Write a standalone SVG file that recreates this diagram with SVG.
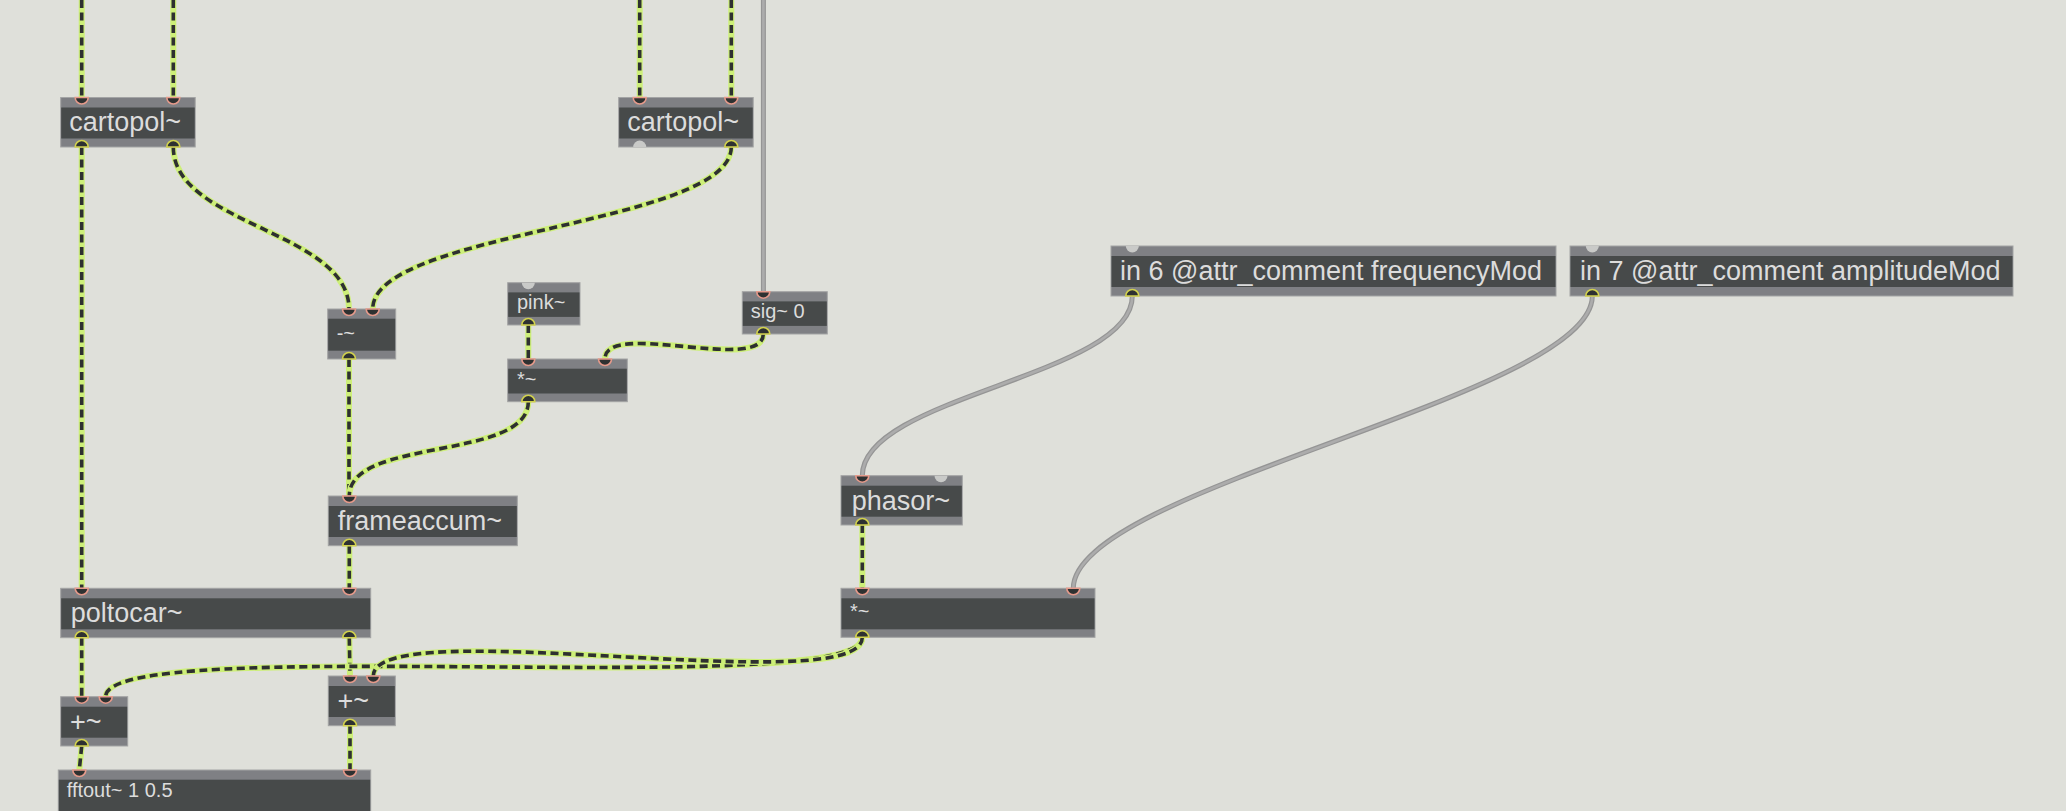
<svg xmlns="http://www.w3.org/2000/svg" xmlns:xlink="http://www.w3.org/1999/xlink" width="2066" height="811" viewBox="0 0 2066 811">
<style>
.bg{fill:#dfe0da}
.frame{fill:#7f8084;stroke:#a3a4a4;stroke-width:1}
.body{fill:#474a4a}
.t{font-family:"Liberation Sans",Arial,sans-serif;fill:#dcdcdc}
.big{font-size:27px}
.sm{font-size:20px}
.inl{fill:#2e3131;stroke:#e69a8b;stroke-width:1.6}
.outl{fill:#2e3131;stroke:#d2d24e;stroke-width:1.6}
.off{fill:#c9cac8;stroke:none}
.sb{fill:none;stroke:#cdef78;stroke-width:6}
.sd{fill:none;stroke:#2e3030;stroke-width:3.6;stroke-dasharray:8 4.5}
.gb{fill:none;stroke:#959595;stroke-width:5}
.gc{fill:none;stroke:#acacac;stroke-width:2.6}
</style>
<defs>
<path id="in" d="M-6.5 0A6.5 6.5 0 0 0 6.5 0Z"/>
<path id="out" d="M-6.5 0A6.5 6.5 0 0 1 6.5 0Z"/>
<path id="c1" d="M81.7 0V97.5"/>
<path id="c2" d="M173.3 0V97.5"/>
<path id="c3" d="M639.7 0V97.5"/>
<path id="c4" d="M731.3 0V97.5"/>
<path id="c5" d="M81.7 147V588.3"/>
<path id="c6" d="M173.3 147C173.3 225 349 231 349 309"/>
<path id="c7" d="M731.3 147C731.3 225 372.7 231 372.7 309"/>
<path id="c8" d="M349 359V496"/>
<path id="c9" d="M528.3 325V359"/>
<path id="c10" d="M763.3 334C763.3 374 605 319 605 359"/>
<path id="c11" d="M528.3 401.7C528.3 461 349.3 437 349.3 496"/>
<path id="c12" d="M349.3 545.7V588.3"/>
<path id="c13" d="M81.7 637.7V696.7"/>
<path id="c14" d="M349.3 637.7L350 676"/>
<path id="c15" d="M862.3 637.3C862.3 702 105.7 631.7 105.7 696.7"/>
<path id="c16" d="M862.3 637.3C862.3 702 373.3 611 373.3 676"/>
<path id="c17" d="M81.7 746L79.3 770"/>
<path id="c18" d="M350 725.7V770"/>
<path id="c19" d="M862.3 525V588.3"/>
<path id="g1" d="M763.4 0V291.7"/>
<path id="g2" d="M1132.3 296C1132.3 376 862.3 396 862.3 475.7"/>
<path id="g3" d="M1592.3 296C1592.3 396 1073.3 488 1073.3 588.3"/>
</defs>
<rect class="bg" x="0" y="0" width="2066" height="811"/>

<g id="connectors">
<use href="#g1" class="gb"/><use href="#g1" class="gc"/>
<use href="#g2" class="gb"/><use href="#g2" class="gc"/>
<use href="#g3" class="gb"/><use href="#g3" class="gc"/>
<use href="#c1" class="sb"/><use href="#c1" class="sd"/>
<use href="#c2" class="sb"/><use href="#c2" class="sd"/>
<use href="#c3" class="sb"/><use href="#c3" class="sd"/>
<use href="#c4" class="sb"/><use href="#c4" class="sd"/>
<use href="#c5" class="sb"/><use href="#c5" class="sd"/>
<use href="#c6" class="sb"/><use href="#c6" class="sd"/>
<use href="#c7" class="sb"/><use href="#c7" class="sd"/>
<use href="#c8" class="sb"/><use href="#c8" class="sd"/>
<use href="#c9" class="sb"/><use href="#c9" class="sd"/>
<use href="#c10" class="sb"/><use href="#c10" class="sd"/>
<use href="#c11" class="sb"/><use href="#c11" class="sd"/>
<use href="#c12" class="sb"/><use href="#c12" class="sd"/>
<use href="#c13" class="sb"/><use href="#c13" class="sd"/>
<use href="#c14" class="sb"/><use href="#c14" class="sd"/>
<use href="#c15" class="sb"/><use href="#c15" class="sd"/>
<use href="#c16" class="sb"/><use href="#c16" class="sd"/>
<use href="#c17" class="sb"/><use href="#c17" class="sd"/>
<use href="#c18" class="sb"/><use href="#c18" class="sd"/>
<use href="#c19" class="sb"/><use href="#c19" class="sd"/>
</g>

<g id="cartopol-left" transform="translate(60.7,97.5)">
<rect class="frame" x="0" y="0" width="134.5" height="49.5"/>
<rect class="body" x="0.5" y="10" width="133.5" height="31"/>
<text class="t big" x="8.5" y="33.5">cartopol~</text>
<use href="#in" class="inl" x="21" y="0"/><use href="#in" class="inl" x="112.6" y="0"/>
<use href="#out" class="outl" x="21" y="49.5"/><use href="#out" class="outl" x="112.6" y="49.5"/>
</g>

<g id="cartopol-right" transform="translate(618.7,97.5)">
<rect class="frame" x="0" y="0" width="134.5" height="49.5"/>
<rect class="body" x="0.5" y="10" width="133.5" height="31"/>
<text class="t big" x="8.5" y="33.5">cartopol~</text>
<use href="#in" class="inl" x="21" y="0"/><use href="#in" class="inl" x="112.6" y="0"/>
<use href="#out" class="off" x="21" y="49.5"/><use href="#out" class="outl" x="112.6" y="49.5"/>
</g>

<g id="sig" transform="translate(742.3,291.7)">
<rect class="frame" x="0" y="0" width="85" height="42.3"/>
<rect class="body" x="0.5" y="9.7" width="84" height="24.5"/>
<text class="t sm" x="8.4" y="26.6">sig~ 0</text>
<use href="#in" class="inl" x="21" y="0"/>
<use href="#out" class="outl" x="21" y="42.3"/>
</g>

<g id="pink" transform="translate(507.7,282.7)">
<rect class="frame" x="0" y="0" width="72.3" height="42.3"/>
<rect class="body" x="0.5" y="9.7" width="71.3" height="24.5"/>
<text class="t sm" x="9.3" y="26.5">pink~</text>
<use href="#in" class="off" x="20.6" y="0"/>
<use href="#out" class="outl" x="20.6" y="42.3"/>
</g>

<g id="minus" transform="translate(327.7,309)">
<rect class="frame" x="0" y="0" width="68" height="50"/>
<rect class="body" x="0.5" y="9.7" width="67" height="32"/>
<text class="t sm" x="9" y="31">-~</text>
<use href="#in" class="inl" x="21.3" y="0"/><use href="#in" class="inl" x="45" y="0"/>
<use href="#out" class="outl" x="21.3" y="50"/>
</g>

<g id="mul-small" transform="translate(507.7,359)">
<rect class="frame" x="0" y="0" width="119.6" height="42.7"/>
<rect class="body" x="0.5" y="9.7" width="118.6" height="24.8"/>
<text class="t sm" x="9.3" y="26.5">*~</text>
<use href="#in" class="inl" x="20.6" y="0"/><use href="#in" class="inl" x="97.3" y="0"/>
<use href="#out" class="outl" x="20.6" y="42.7"/>
</g>

<g id="frameaccum" transform="translate(328.3,496)">
<rect class="frame" x="0" y="0" width="189" height="49.7"/>
<rect class="body" x="0.5" y="10" width="188" height="31"/>
<text class="t big" x="9.4" y="34">frameaccum~</text>
<use href="#in" class="inl" x="21" y="0"/>
<use href="#out" class="outl" x="21" y="49.7"/>
</g>

<g id="poltocar" transform="translate(60.7,588.3)">
<rect class="frame" x="0" y="0" width="310" height="49.4"/>
<rect class="body" x="0.5" y="10" width="309" height="31"/>
<text class="t big" x="10" y="34">poltocar~</text>
<use href="#in" class="inl" x="21" y="0"/><use href="#in" class="inl" x="288.6" y="0"/>
<use href="#out" class="outl" x="21" y="49.4"/><use href="#out" class="outl" x="288.6" y="49.4"/>
</g>

<g id="plus-left" transform="translate(60.7,696.7)">
<rect class="frame" x="0" y="0" width="67" height="49.3"/>
<rect class="body" x="0.5" y="10" width="66" height="31"/>
<text class="t big" x="9.3" y="34">+~</text>
<use href="#in" class="inl" x="21" y="0"/><use href="#in" class="inl" x="45" y="0"/>
<use href="#out" class="outl" x="21" y="49.3"/>
</g>

<g id="plus-right" transform="translate(328.3,676)">
<rect class="frame" x="0" y="0" width="67" height="49.7"/>
<rect class="body" x="0.5" y="10" width="66" height="31"/>
<text class="t big" x="9.3" y="34">+~</text>
<use href="#in" class="inl" x="21.7" y="0"/><use href="#in" class="inl" x="45" y="0"/>
<use href="#out" class="outl" x="21.7" y="49.7"/>
</g>

<g id="fftout" transform="translate(58.3,770)">
<rect class="frame" x="0" y="0" width="312.4" height="50"/>
<rect class="body" x="0.5" y="9.7" width="311.4" height="32"/>
<text class="t sm" x="8.4" y="26.7">fftout~ 1 0.5</text>
<use href="#in" class="inl" x="21" y="0"/><use href="#in" class="inl" x="291.7" y="0"/>
</g>

<g id="in6" transform="translate(1111,246)">
<rect class="frame" x="0" y="0" width="445" height="50"/>
<rect class="body" x="0.5" y="10" width="444" height="31"/>
<text class="t big" x="9" y="33.5">in 6 @attr_comment frequencyMod</text>
<use href="#in" class="off" x="21.3" y="0"/>
<use href="#out" class="outl" x="21.3" y="50"/>
</g>

<g id="in7" transform="translate(1570,246)">
<rect class="frame" x="0" y="0" width="443" height="50"/>
<rect class="body" x="0.5" y="10" width="442" height="31"/>
<text class="t big" x="10" y="33.5">in 7 @attr_comment amplitudeMod</text>
<use href="#in" class="off" x="22.3" y="0"/>
<use href="#out" class="outl" x="22.3" y="50"/>
</g>

<g id="phasor" transform="translate(841,475.7)">
<rect class="frame" x="0" y="0" width="121.3" height="49.3"/>
<rect class="body" x="0.5" y="10" width="120.3" height="31"/>
<text class="t big" x="10.7" y="34">phasor~</text>
<use href="#in" class="inl" x="21.3" y="0"/><use href="#in" class="off" x="100" y="0"/>
<use href="#out" class="outl" x="21.3" y="49.3"/>
</g>

<g id="mul-big" transform="translate(841,588.3)">
<rect class="frame" x="0" y="0" width="254" height="49"/>
<rect class="body" x="0.5" y="10" width="253" height="31"/>
<text class="t sm" x="9" y="30">*~</text>
<use href="#in" class="inl" x="21.3" y="0"/><use href="#in" class="inl" x="232.3" y="0"/>
<use href="#out" class="outl" x="21.3" y="49"/>
</g>
</svg>
